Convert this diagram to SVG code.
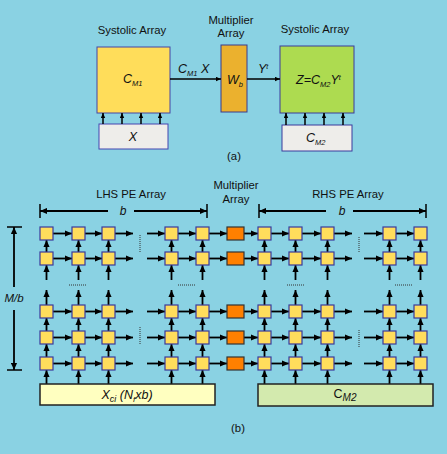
<svg xmlns="http://www.w3.org/2000/svg" xmlns:xlink="http://www.w3.org/1999/xlink" width="447" height="454" viewBox="0 0 447 454">
<style>
text{font-family:"Liberation Sans",Arial,sans-serif;fill:#111;}
.lbl{font-size:11.3px;text-anchor:middle;}
.it{font-style:italic;}
.pe{fill:#FFDD5C;stroke:#3A3A9C;stroke-width:1.2;}
.mu{fill:#FF8000;stroke:#333;stroke-width:1.2;}
.ar{stroke:#000;stroke-width:1.8;fill:none;marker-end:url(#ah);}
.ars{stroke:#000;stroke-width:1.5;fill:none;marker-end:url(#ahs);}
.dim{stroke:#000;stroke-width:1.5;fill:none;}
.dot{stroke:#333;stroke-width:1;stroke-dasharray:1 1;fill:none;}
</style>
<defs>
<marker id="ah" viewBox="0 0 8 8" refX="8" refY="4" markerWidth="7" markerHeight="7" markerUnits="userSpaceOnUse" orient="auto"><path d="M0,0.5 L8,4 L0,7.5 z" fill="#000"/></marker>
<marker id="ahs" viewBox="0 0 8 8" refX="8" refY="4" markerWidth="5" markerHeight="5" markerUnits="userSpaceOnUse" orient="auto"><path d="M0,0.5 L8,4 L0,7.5 z" fill="#000"/></marker>
<g id="hrow">
<line x1="53" y1="0" x2="72" y2="0"/><line x1="85" y1="0" x2="102" y2="0"/><line x1="115" y1="0" x2="133" y2="0"/><line x1="147" y1="0" x2="165" y2="0"/><line x1="178" y1="0" x2="196" y2="0"/><line x1="209" y1="0" x2="227" y2="0"/><line x1="244" y1="0" x2="258" y2="0"/><line x1="271" y1="0" x2="289" y2="0"/><line x1="302" y1="0" x2="321" y2="0"/><line x1="334" y1="0" x2="352" y2="0"/><line x1="364" y1="0" x2="383" y2="0"/><line x1="396" y1="0" x2="414" y2="0"/>
</g>
<g id="vcol">
<line x1="0" y1="252" x2="0" y2="240"/><line x1="0" y1="280" x2="0" y2="265"/><line x1="0" y1="305" x2="0" y2="290"/><line x1="0" y1="331" x2="0" y2="318"/><line x1="0" y1="357" x2="0" y2="344"/><line x1="0" y1="384" x2="0" y2="370"/>
</g>
</defs>
<rect width="447" height="454" fill="#8AD2E3"/>

<!-- (a) labels -->
<text class="lbl" x="132" y="34">Systolic Array</text>
<text class="lbl" x="231" y="24">Multiplier</text>
<text class="lbl" x="231" y="37">Array</text>
<text class="lbl" x="315" y="33">Systolic Array</text>

<g id="a-sys1"><rect x="97" y="47" width="73" height="66" fill="#FFDD5A" stroke="#4545A5" stroke-width="1"/><text class="it" x="123" y="83" font-size="12.5">C<tspan font-size="7.5" dy="3">M1</tspan></text></g>
<g id="a-x"><rect x="99" y="124" width="69" height="25" fill="#EEEDEA" stroke="#4545B0" stroke-width="1"/><text class="it" x="133" y="141" font-size="12.5" text-anchor="middle">X</text></g>
<g id="a-mul"><rect x="221" y="45" width="26" height="67" fill="#EBB12E" stroke="#3A3A8C" stroke-width="1"/><text class="it" x="227" y="84" font-size="12.5">W<tspan font-size="7.5" dy="3">b</tspan></text></g>
<g id="a-sys2"><rect x="280" y="46" width="74" height="67" fill="#ADDB50" stroke="#3A3A9C" stroke-width="1"/><text class="it" x="296" y="84" font-size="12.5">Z=C<tspan font-size="7.5" dy="3">M2</tspan><tspan dy="-3">Y</tspan><tspan font-size="7" dy="-4">t</tspan></text></g>
<g id="a-cm2"><rect x="282" y="125" width="70" height="26" fill="#EEEDEA" stroke="#3A3A9C" stroke-width="1"/><text class="it" x="306" y="142" font-size="12.5">C<tspan font-size="7.5" dy="3">M2</tspan></text></g>

<g id="a-connectors">
<line class="ars" x1="103" y1="124" x2="103" y2="113"/><line class="ars" x1="122" y1="124" x2="122" y2="113"/><line class="ars" x1="141" y1="124" x2="141" y2="113"/><line class="ars" x1="160" y1="124" x2="160" y2="113"/>
<line class="ars" x1="286" y1="125" x2="286" y2="113"/><line class="ars" x1="305" y1="125" x2="305" y2="113"/><line class="ars" x1="324" y1="125" x2="324" y2="113"/><line class="ars" x1="343" y1="125" x2="343" y2="113"/>
<line class="ars" x1="170" y1="79" x2="221" y2="79"/>
<line class="ars" x1="247" y1="79" x2="280" y2="79"/>
<text class="it" x="178" y="73" font-size="12.5">C<tspan font-size="7.5" dy="3">M1</tspan><tspan dy="-3"> X</tspan></text>
<text class="it" x="258" y="73" font-size="12.5">Y<tspan font-size="7" dy="-4">t</tspan></text>
</g>
<text class="lbl" x="234" y="160" font-size="12">(a)</text>

<!-- (b) labels -->
<text class="lbl" x="131" y="198">LHS PE Array</text>
<text class="lbl" x="236" y="189">Multiplier</text>
<text class="lbl" x="236" y="203">Array</text>
<text class="lbl" x="348" y="198">RHS PE Array</text>

<g id="dims">
<line class="dim" x1="40" y1="204" x2="40" y2="218"/><line class="dim" x1="207" y1="204" x2="207" y2="218"/>
<line class="ar" x1="108" y1="211" x2="40" y2="211"/><line class="ar" x1="134" y1="211" x2="207" y2="211"/>
<text class="it" x="123" y="215" font-size="12" text-anchor="middle">b</text>
<line class="dim" x1="259" y1="204" x2="259" y2="218"/><line class="dim" x1="426" y1="204" x2="426" y2="218"/>
<line class="ar" x1="326" y1="211" x2="259" y2="211"/><line class="ar" x1="353" y1="211" x2="426" y2="211"/>
<text class="it" x="342" y="215" font-size="12" text-anchor="middle">b</text>
<line class="dim" x1="7" y1="227" x2="22" y2="227"/><line class="dim" x1="7" y1="370" x2="22" y2="370"/>
<line class="ar" x1="14" y1="287" x2="14" y2="227"/><line class="ar" x1="14" y1="310" x2="14" y2="370"/>
<text class="it" x="14" y="302" font-size="11.5" text-anchor="middle">M/b</text>
</g>

<g id="connectors">
<g class="ar">
<use xlink:href="#hrow" y="233.5"/><use xlink:href="#hrow" y="258.5"/><use xlink:href="#hrow" y="311.5"/><use xlink:href="#hrow" y="337.5"/><use xlink:href="#hrow" y="363.5"/>
<use xlink:href="#vcol" x="46.5"/><use xlink:href="#vcol" x="78.5"/><use xlink:href="#vcol" x="108.5"/><use xlink:href="#vcol" x="171.5"/><use xlink:href="#vcol" x="202.5"/>
<use xlink:href="#vcol" x="264.5"/><use xlink:href="#vcol" x="295.5"/><use xlink:href="#vcol" x="327.5"/><use xlink:href="#vcol" x="389.5"/><use xlink:href="#vcol" x="420.5"/>
</g>
<line class="dot" x1="140" y1="235" x2="140" y2="253"/><line class="dot" x1="140" y1="327" x2="140" y2="345"/>
<line class="dot" x1="359" y1="237" x2="359" y2="253"/><line class="dot" x1="359" y1="330" x2="359" y2="348"/>
<line class="dot" x1="69" y1="285" x2="87" y2="285"/><line class="dot" x1="178" y1="285" x2="196" y2="285"/>
<line class="dot" x1="287" y1="285" x2="305" y2="285"/><line class="dot" x1="395" y1="285" x2="413" y2="285"/>
</g>

<g id="lhs-pe">
<g id="L1"><rect class="pe" x="40" y="227" width="13" height="13"/><rect class="pe" x="72" y="227" width="13" height="13"/><rect class="pe" x="102" y="227" width="13" height="13"/><rect class="pe" x="165" y="227" width="13" height="13"/><rect class="pe" x="196" y="227" width="13" height="13"/></g>
<g id="L2"><rect class="pe" x="40" y="252" width="13" height="13"/><rect class="pe" x="72" y="252" width="13" height="13"/><rect class="pe" x="102" y="252" width="13" height="13"/><rect class="pe" x="165" y="252" width="13" height="13"/><rect class="pe" x="196" y="252" width="13" height="13"/></g>
<g id="L3"><rect class="pe" x="40" y="305" width="13" height="13"/><rect class="pe" x="72" y="305" width="13" height="13"/><rect class="pe" x="102" y="305" width="13" height="13"/><rect class="pe" x="165" y="305" width="13" height="13"/><rect class="pe" x="196" y="305" width="13" height="13"/></g>
<g id="L4"><rect class="pe" x="40" y="331" width="13" height="13"/><rect class="pe" x="72" y="331" width="13" height="13"/><rect class="pe" x="102" y="331" width="13" height="13"/><rect class="pe" x="165" y="331" width="13" height="13"/><rect class="pe" x="196" y="331" width="13" height="13"/></g>
<g id="L5"><rect class="pe" x="40" y="357" width="13" height="13"/><rect class="pe" x="72" y="357" width="13" height="13"/><rect class="pe" x="102" y="357" width="13" height="13"/><rect class="pe" x="165" y="357" width="13" height="13"/><rect class="pe" x="196" y="357" width="13" height="13"/></g>
</g>
<g id="mult">
<rect id="M1" class="mu" x="227" y="227" width="17" height="13"/><rect id="M2" class="mu" x="227" y="252" width="17" height="13"/><rect id="M3" class="mu" x="227" y="305" width="17" height="13"/><rect id="M4" class="mu" x="227" y="331" width="17" height="13"/><rect id="M5" class="mu" x="227" y="357" width="17" height="13"/>
</g>
<g id="rhs-pe">
<g id="R1"><rect class="pe" x="258" y="227" width="13" height="13"/><rect class="pe" x="289" y="227" width="13" height="13"/><rect class="pe" x="321" y="227" width="13" height="13"/><rect class="pe" x="383" y="227" width="13" height="13"/><rect class="pe" x="414" y="227" width="13" height="13"/></g>
<g id="R2"><rect class="pe" x="258" y="252" width="13" height="13"/><rect class="pe" x="289" y="252" width="13" height="13"/><rect class="pe" x="321" y="252" width="13" height="13"/><rect class="pe" x="383" y="252" width="13" height="13"/><rect class="pe" x="414" y="252" width="13" height="13"/></g>
<g id="R3"><rect class="pe" x="258" y="305" width="13" height="13"/><rect class="pe" x="289" y="305" width="13" height="13"/><rect class="pe" x="321" y="305" width="13" height="13"/><rect class="pe" x="383" y="305" width="13" height="13"/><rect class="pe" x="414" y="305" width="13" height="13"/></g>
<g id="R4"><rect class="pe" x="258" y="331" width="13" height="13"/><rect class="pe" x="289" y="331" width="13" height="13"/><rect class="pe" x="321" y="331" width="13" height="13"/><rect class="pe" x="383" y="331" width="13" height="13"/><rect class="pe" x="414" y="331" width="13" height="13"/></g>
<g id="R5"><rect class="pe" x="258" y="357" width="13" height="13"/><rect class="pe" x="289" y="357" width="13" height="13"/><rect class="pe" x="321" y="357" width="13" height="13"/><rect class="pe" x="383" y="357" width="13" height="13"/><rect class="pe" x="414" y="357" width="13" height="13"/></g>
</g>

<g id="b-xci"><rect x="40" y="384" width="175" height="21" fill="#FFFFC0" stroke="#222" stroke-width="1.5"/><text class="it" x="127" y="399" font-size="12.5" text-anchor="middle">X<tspan font-size="9" dy="3">ci</tspan><tspan dy="-3"> (N</tspan><tspan font-size="8" dy="3">f</tspan><tspan dy="-3">xb)</tspan></text></g>
<g id="b-cm2"><rect x="258" y="384" width="175" height="22" fill="#D3EAAE" stroke="#222" stroke-width="1.5"/><text x="345" y="398" font-size="12.5" text-anchor="middle">C<tspan class="it" font-size="10" dy="3">M2</tspan></text></g>
<text class="lbl" x="238" y="432" font-size="12">(b)</text>
</svg>
